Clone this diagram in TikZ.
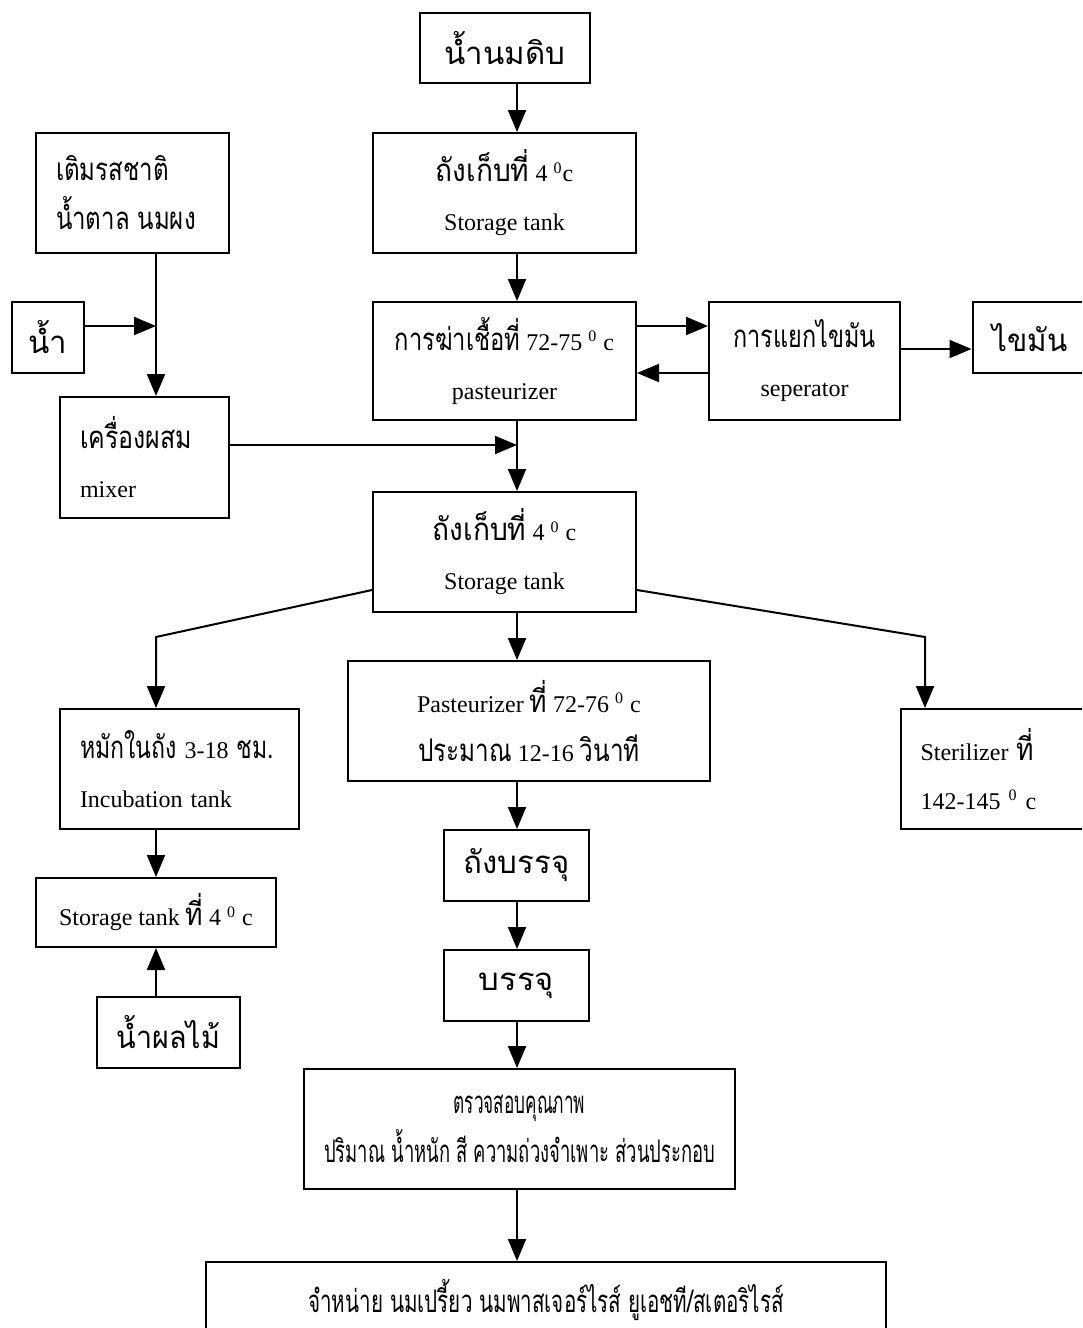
\documentclass[tikz,border=0pt]{standalone}
\usepackage{fontspec}
\setmainfont{Liberation Serif}
\newfontfamily\thaifont[Script=Thai,Scale=1.3]{Loma}
\newcommand{\tx}[2][0.76]{{\thaifont\addfontfeature{FakeStretch=#1}#2}}
\usepackage{tikz}
\usetikzlibrary{arrows.meta}
\tikzstyle{box} = [rectangle, draw=black, line width=1pt, align=center, inner xsep=10pt, font=\fontsize{12}{24.5}\selectfont]
\tikzstyle{boxl} = [box, align=left]
\tikzstyle{arrow} = [line width=1pt, -{Triangle[width=9pt,length=11pt]}]

\begin{document}
\begin{tikzpicture}[x=0.5pt, y=-0.5pt]
		\useasboundingbox (0,0) rectangle (1082,1328);
		\clip (0,0) rectangle (1082,1328);
		\coordinate (spine) at (517,0);
		\coordinate (lcol) at (156,0);
		% main line
		\node (raw) [box, minimum width=85pt, minimum height=35pt] at (505,48) {\tx[1]{น้ำนมดิบ}};
		\node (st1) [box, minimum width=131.5pt, minimum height=60pt] at (504.5,193) {\tx[0.9]{ถังเก็บที่} 4 \textsuperscript{0}c\\ Storage tank};
		\node (past) [box, minimum width=131.5pt, minimum height=59pt] at (504.5,361) {\tx{การฆ่าเชื้อที่} 72-75 \textsuperscript{0} c\\ pasteurizer};
		\node (sep) [box, minimum width=95.5pt, minimum height=59pt] at (804.5,361) {\tx[0.75]{การแยกไขมัน}\\ seperator};
		\node (fat) [box, minimum width=57pt, minimum height=35.5pt] at (1030,337.5) {\tx[0.95]{ไขมัน}};
		\node (st2) [box, minimum width=131.5pt, minimum height=60pt] at (504.5,552) {\tx[0.9]{ถังเก็บที่} 4 \textsuperscript{0} c\\ Storage tank};
		% mixing side
		\node (flavor) [boxl, text width=76.5pt, minimum height=60pt] at (132.5,193) {\tx[0.77]{เติมรสชาติ}\\ \tx[0.77]{น้ำตาล นมผง}};
		\node (water) [box, inner xsep=0pt, minimum width=36pt, minimum height=35.5pt] at (48,337.5) {\tx[1]{น้ำ}};
		\node (mixer) [boxl, text width=64.5pt, minimum height=60.5pt] at (144.5,457.5) {\tx[0.8]{เครื่องผสม}\\ mixer};
		\coordinate (wj) at (156,326);
		\coordinate (mj) at (517,445);
		% three branches
		\node (inc) [boxl, text width=99.5pt, minimum height=60pt] at (179.5,769) {\tx[0.74]{หมักในถัง} 3-18 \tx[0.74]{ชม.}\\ Incubation tank};
		\node (past2) [box, minimum width=181pt, minimum height=60pt] at (529,721) {Pasteurizer \tx[0.85]{ที่} 72-76 \textsuperscript{0} c\\ \tx[0.78]{ประมาณ} 12-16 \tx[0.78]{วินาที}};
		\node (ster) [boxl, text width=80pt, minimum height=60pt] at (1000.5,769) {Sterilizer \tx[0.85]{ที่}\\ 142-145 \textsuperscript{0} c};
		\coordinate (lbend) at (156,637);
		\coordinate (rbend) at (925,637);
		\node (st3) [box, minimum width=120pt, minimum height=34.5pt] at (156,912.5) {Storage tank \tx[0.85]{ที่} 4 \textsuperscript{0} c};
		\node (juice) [box, minimum width=60.5pt, minimum height=35.5pt] at (168.5,1032.5) {\tx[0.92]{น้ำผลไม้}};
		\node (filltank) [box, minimum width=72.5pt, minimum height=35.5pt] at (516.5,865.5) {\tx[1]{ถังบรรจุ}};
		\node (fill) [box, minimum width=72.5pt, minimum height=35.5pt] at (516.5,985.5) {\tx[1.05]{บรรจุ}};
		\node (qc) [box, minimum width=215.5pt, minimum height=60pt] at (519.5,1129) {\tx[0.55]{ตรวจสอบคุณภาพ}\\ \tx[0.59]{ปริมาณ น้ำหนัก สี ความถ่วงจำเพาะ ส่วนประกอบ}};
		\node (sales) [box, minimum width=340pt, minimum height=38pt] at (546,1300) {\tx[0.66]{จำหน่าย นมเปรี้ยว นมพาสเจอร์ไรส์ ยูเอชที/สเตอริไรส์}};
		% connectors
		\draw [arrow] (raw.south -| spine) -- (st1.north -| spine);
		\draw [arrow] (st1.south -| spine) -- (past.north -| spine);
		\draw [arrow] ([yshift=17.5pt]past.east) -- ([yshift=17.5pt]sep.west);
		\draw [arrow] ([yshift=-6pt]sep.west) -- ([yshift=-6pt]past.east);
		\draw [arrow] ([yshift=6pt]sep.east) -- ([yshift=6pt]sep.east -| fat.west);
		\draw [arrow] (flavor.south -| lcol) -- (mixer.north -| lcol);
		\draw [arrow] (water.east |- wj) -- (wj);
		\draw [arrow] (past.south -| spine) -- (st2.north -| spine);
		\draw [arrow] (mixer.east |- mj) -- (mj);
		\draw [arrow] ([yshift=-19pt]st2.west) -- (lbend) -- (inc.north -| lbend);
		\draw [arrow] ([yshift=-19pt]st2.east) -- (rbend) -- (ster.north -| rbend);
		\draw [arrow] (st2.south -| spine) -- (past2.north -| spine);
		\draw [arrow] (inc.south -| lcol) -- (st3.north -| lcol);
		\draw [arrow] (juice.north -| lcol) -- (st3.south -| lcol);
		\draw [arrow] (past2.south -| spine) -- (filltank.north -| spine);
		\draw [arrow] (filltank.south -| spine) -- (fill.north -| spine);
		\draw [arrow] (fill.south -| spine) -- (qc.north -| spine);
		\draw [arrow] (qc.south -| spine) -- (sales.north -| spine);
	\end{tikzpicture}
\end{document}
